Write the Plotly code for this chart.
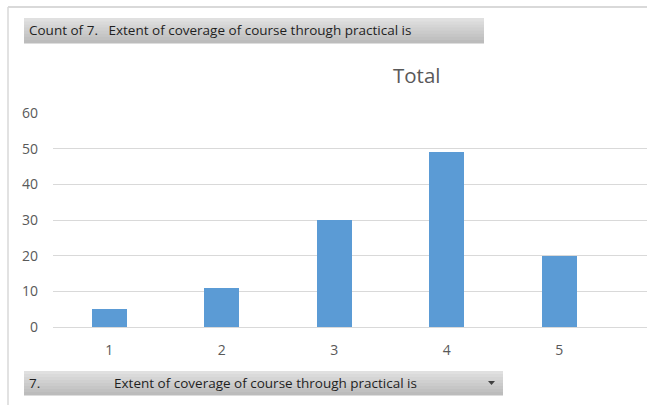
import plotly.graph_objects as go

# ── Data ──────────────────────────────────────────────────────────────────────
categories = [1, 2, 3, 4, 5]
counts = [5, 11, 30, 49, 20]
tick_labels = ["1", "2", "3", "4", "5"]

W, H = 647, 405
L, R, T, B = 53, 0, 113, 78
PW, PH = W - L - R, H - T - B

FONT = "Open Sans, sans-serif"


def px(x):
    return (x - L) / PW


def py(y):
    return (H - B - y) / PH


fig = go.Figure()

fig.add_trace(go.Bar(
    x=categories,
    y=counts,
    width=0.31,
    marker=dict(color="#5B9BD5", line=dict(width=0)),
    hoverinfo="x+y",
))

shapes = []

# ── Chart frame (left + top border) ───────────────────────────────────────────
shapes.append(dict(type="line", xref="paper", yref="paper",
                   x0=px(8), x1=px(W + 5), y0=py(7), y1=py(7),
                   line=dict(color="#D9D9D9", width=2)))
shapes.append(dict(type="line", xref="paper", yref="paper",
                   x0=px(8), x1=px(8), y0=py(7), y1=py(H + 5),
                   line=dict(color="#D9D9D9", width=1.5)))


# ── Grey gradient field buttons ──────────────────────────────────────────────
def gradient_box(x0, x1, y0, y1, steps=8):
    top = (224, 224, 224)
    bot = (188, 188, 188)
    h = (y1 - y0) / steps
    for i in range(steps):
        t = i / (steps - 1)
        c = tuple(int(top[k] + (bot[k] - top[k]) * t) for k in range(3))
        shapes.append(dict(type="rect", xref="paper", yref="paper",
                           x0=px(x0), x1=px(x1),
                           y0=py(y0 + i * h), y1=py(y0 + (i + 1) * h + 0.5),
                           line=dict(width=0),
                           fillcolor="rgb(%d,%d,%d)" % c, layer="above"))


gradient_box(24, 484, 18, 43)
gradient_box(24, 503, 371, 395)

# dropdown arrow
shapes.append(dict(type="path", xref="paper", yref="paper",
                   path="M %f %f L %f %f L %f %f Z" % (
                       px(488), py(381), px(495), py(381), px(491.5), py(385)),
                   fillcolor="#404040", line=dict(width=0), layer="above"))

TXT = dict(family=FONT, size=13.5, color="#1F1F1F")

annotations = [
    dict(text="Count of 7.   Extent of coverage of course through practical is",
         xref="paper", yref="paper", x=px(27), y=py(30.5),
         xanchor="left", yanchor="middle", showarrow=False, font=TXT),
    dict(text="7.", xref="paper", yref="paper", x=px(27), y=py(383),
         xanchor="left", yanchor="middle", showarrow=False, font=TXT),
    dict(text="Extent of coverage of course through practical is",
         xref="paper", yref="paper", x=px(112), y=py(383),
         xanchor="left", yanchor="middle", showarrow=False, font=TXT),
    dict(text="Total", xref="paper", yref="paper", x=px(417), y=py(75),
         xanchor="center", yanchor="middle", showarrow=False,
         font=dict(family=FONT, size=20.5, color="#595959")),
]

fig.update_layout(
    width=W,
    height=H,
    margin=dict(l=L, r=R, t=T, b=B, pad=0),
    paper_bgcolor="white",
    plot_bgcolor="white",
    showlegend=False,
    bargap=0,
    shapes=shapes,
    annotations=annotations,
    font=dict(family=FONT, color="#595959", size=13),
    xaxis=dict(
        range=[0.5, 0.5 + PW / 112.5],
        tickmode="array",
        tickvals=categories,
        ticktext=tick_labels,
        showgrid=False,
        zeroline=False,
        showline=False,
        ticks="",
        ticklabelstandoff=13,
        tickfont=dict(family=FONT, size=14, color="#595959"),
        fixedrange=True,
    ),
    yaxis=dict(
        range=[0, 60],
        dtick=10,
        showgrid=True,
        gridcolor="#D9D9D9",
        gridwidth=1,
        zeroline=True,
        zerolinecolor="#D9D9D9",
        zerolinewidth=1,
        showline=False,
        ticks="",
        ticklabelstandoff=14,
        tickfont=dict(family=FONT, size=14, color="#595959"),
        fixedrange=True,
    ),
)

fig.write_html("out.html", config=dict(displayModeBar=False),
               post_script="document.body.style.margin='0';")
